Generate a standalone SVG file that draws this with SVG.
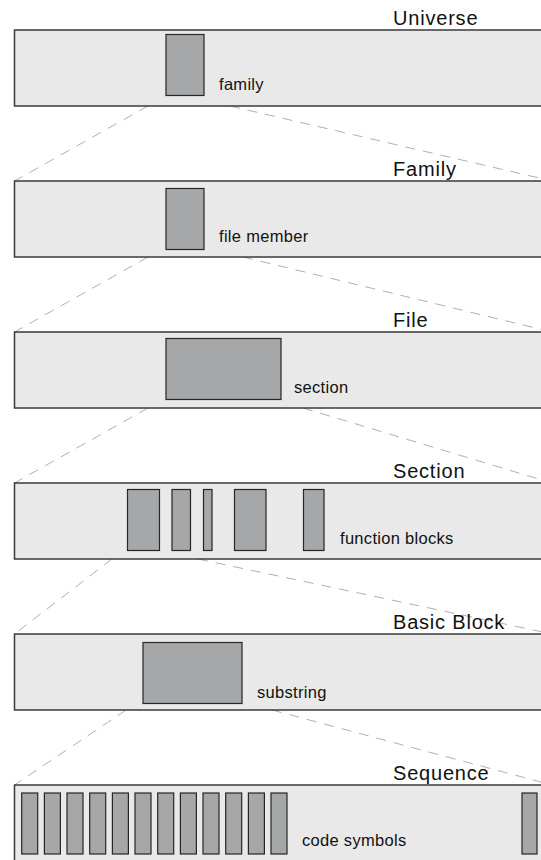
<svg xmlns="http://www.w3.org/2000/svg" width="541" height="860" viewBox="0 0 541 860">
<style>
.band{fill:#e9e9e9;stroke:#3a3a3a;stroke-width:1.5}
.blk{fill:#a6a7a9;stroke:#262626;stroke-width:1.2}
.title{font-family:"Liberation Sans",Arial,sans-serif;font-size:20px;letter-spacing:0.8px;fill:#111}
.lbl{font-family:"Liberation Sans",Arial,sans-serif;font-size:16.5px;letter-spacing:0.3px;fill:#111}
.dash{stroke:#b0b0b0;stroke-width:1;stroke-dasharray:10 8;fill:none}
</style>
<g id="connectors">
<line class="dash" x1="148" y1="106" x2="14.5" y2="181"/>
<line class="dash" x1="230" y1="106" x2="552" y2="181"/>
<line class="dash" x1="148" y1="257" x2="14.5" y2="332"/>
<line class="dash" x1="243" y1="257" x2="552" y2="332"/>
<line class="dash" x1="148" y1="408" x2="14.5" y2="483"/>
<line class="dash" x1="303" y1="408" x2="552" y2="483"/>
<line class="dash" x1="112" y1="559" x2="14.5" y2="634"/>
<line class="dash" x1="198" y1="559" x2="552" y2="634"/>
<line class="dash" x1="126" y1="710" x2="14.5" y2="785"/>
<line class="dash" x1="272" y1="710" x2="552" y2="785"/>
</g>
<g id="universe">
<rect class="band" x="14.5" y="30" width="600" height="76"/>
<text class="title" x="393" y="25">Universe</text>
<rect class="blk" x="166" y="34.5" width="38" height="61"/>
<text class="lbl" x="219" y="90">family</text>
</g>
<g id="family">
<rect class="band" x="14.5" y="181" width="600" height="76"/>
<text class="title" x="393" y="176">Family</text>
<rect class="blk" x="166" y="188.5" width="38" height="61"/>
<text class="lbl" x="219" y="242">file member</text>
</g>
<g id="file">
<rect class="band" x="14.5" y="332" width="600" height="76"/>
<text class="title" x="393" y="327">File</text>
<rect class="blk" x="166" y="338.5" width="115" height="61"/>
<text class="lbl" x="294" y="393">section</text>
</g>
<g id="section">
<rect class="band" x="14.5" y="483" width="600" height="76"/>
<text class="title" x="393" y="478">Section</text>
<rect class="blk" x="127.5" y="489.5" width="32" height="61"/>
<rect class="blk" x="172" y="489.5" width="18.5" height="61"/>
<rect class="blk" x="203.5" y="489.5" width="8.5" height="61"/>
<rect class="blk" x="234.5" y="489.5" width="31.5" height="61"/>
<rect class="blk" x="303.5" y="489.5" width="20.5" height="61"/>
<text class="lbl" x="340" y="544">function blocks</text>
</g>
<g id="basic-block">
<rect class="band" x="14.5" y="634" width="600" height="76"/>
<text class="title" x="393" y="629">Basic Block</text>
<rect class="blk" x="143" y="642.5" width="99" height="61"/>
<text class="lbl" x="257" y="698">substring</text>
</g>
<g id="sequence">
<rect class="band" x="14.5" y="785" width="600" height="80"/>
<text class="title" x="393" y="780">Sequence</text>
<rect class="blk" x="21.7" y="793" width="16" height="61"/>
<rect class="blk" x="44.4" y="793" width="16" height="61"/>
<rect class="blk" x="67" y="793" width="16" height="61"/>
<rect class="blk" x="89.7" y="793" width="16" height="61"/>
<rect class="blk" x="112.4" y="793" width="16" height="61"/>
<rect class="blk" x="135" y="793" width="16" height="61"/>
<rect class="blk" x="157.7" y="793" width="16" height="61"/>
<rect class="blk" x="180.4" y="793" width="16" height="61"/>
<rect class="blk" x="203" y="793" width="16" height="61"/>
<rect class="blk" x="225.7" y="793" width="16" height="61"/>
<rect class="blk" x="248.4" y="793" width="16" height="61"/>
<rect class="blk" x="271" y="793" width="16" height="61"/>
<rect class="blk" x="522" y="793" width="15" height="61"/>
<text class="lbl" x="302" y="846">code symbols</text>
</g>
</svg>
